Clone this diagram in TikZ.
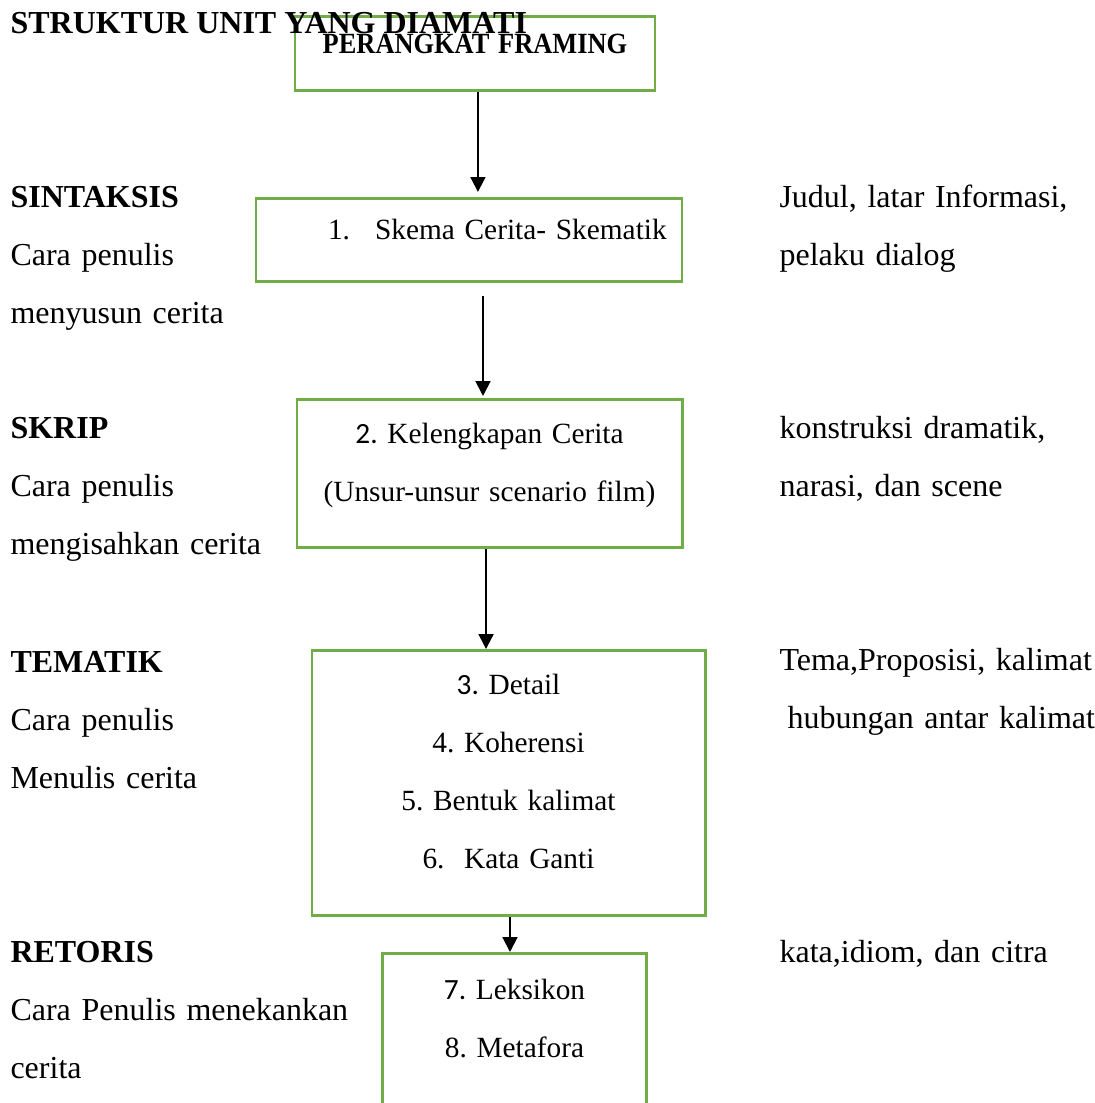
\documentclass[tikz,border=0pt]{standalone}
\usepackage{fontspec}
\setmainfont{Liberation Serif}
\newfontfamily\numfont{Carlito}
\usepackage{xcolor}
\usepackage{tikz}
\usetikzlibrary{arrows.meta,positioning}
\definecolor{boxgreen}{HTML}{70AD47}
\frenchspacing

\begin{document}
\begin{tikzpicture}[
    x=0.375pt, y=-0.375pt,
    unit/.style={draw=boxgreen, line width=1.1pt, anchor=north, inner sep=0pt, align=center, font=\fontsize{11pt}{21.75pt}\selectfont},
    side/.style={anchor=base west, inner sep=0pt, text width=170pt, align=left, font=\fontsize{12pt}{21.75pt}\selectfont},
    arrow/.style={-{Triangle[length=5.6pt, width=5.6pt]}, line width=0.75pt}
]
    \useasboundingbox (0,0) rectangle (1095,1103);
    \clip (0,0) rectangle (1095,1103);

    % Units
    \node[unit, text width=135pt, text height=13.9pt, text depth=13.9pt] (f) at (475,15) {\textbf{\scalebox{0.9}[1]{PERANGKAT FRAMING}}};
    \node[unit, text width=159.75pt, text height=15.4pt, text depth=15.75pt, align=left] (s) at (469,197) {\hspace*{27pt}1.\hspace{9.4pt}Skema Cerita- Skematik};
    \node[unit, text width=144.4pt, text height=16.5pt, text depth=39pt] (k) at (489.5,398) {{\numfont 2.} Kelengkapan Cerita\\(Unsur-unsur scenario film)};
    \node[unit, text width=147.4pt, text height=16.5pt, text depth=82.9pt] (d) at (508.5,649) {{\numfont 3.} Detail\\4. Koherensi\\5. Bentuk kalimat\\6.~ Kata Ganti};
    \node[unit, text width=99pt, text height=17.25pt, text depth=56pt] (l) at (514.5,952) {{\numfont 7.} Leksikon\\8. Metafora};

    % Title
    \node[anchor=base west, inner sep=0pt, font=\bfseries\fontsize{12pt}{14pt}\selectfont] (title) at (10,33) {STRUKTUR UNIT YANG DIAMATI};

    % Left side
    \node[side] (sx) at (10,207) {\textbf{SINTAKSIS}\\Cara penulis\\menyusun cerita};
    \node[side] (sk) at (10,438) {\textbf{SKRIP}\\Cara penulis\\mengisahkan cerita};
    \node[side] (tm) at (10,672) {\textbf{TEMATIK}\\Cara penulis\\Menulis cerita};
    \node[side] (rt) at (10,962) {\textbf{RETORIS}\\Cara Penulis menekankan\\cerita};

    % Right side
    \node[side, text width=125pt] (sxr) at (779,207) {Judul, latar Informasi,\\pelaku dialog};
    \node[side, text width=125pt] (skr) at (779,438) {konstruksi dramatik,\\narasi, dan scene};
    \node[side, text width=125pt] (tmr) at (779,670) {Tema,Proposisi, kalimat\\\hspace*{3pt}hubungan antar kalimat};
    \node[side, text width=125pt] (rtr) at (779,962) {kata,idiom, dan citra};

    % Arrows
    \draw[arrow, shorten >=1.9pt] ([xshift=1.1pt]f.south) -- ([xshift=1.1pt]f.south |- s.north);
    \draw[arrow, shorten <=4.9pt, shorten >=0.75pt] ([xshift=5.25pt]s.south) -- ([xshift=5.25pt]s.south |- k.north);
    \draw[arrow] ([xshift=-1.3pt]k.south) -- ([xshift=-1.3pt]k.south |- d.north);
    \draw[arrow] ([xshift=0.56pt]d.south) -- ([xshift=0.56pt]d.south |- l.north);

\end{tikzpicture}
\end{document}
